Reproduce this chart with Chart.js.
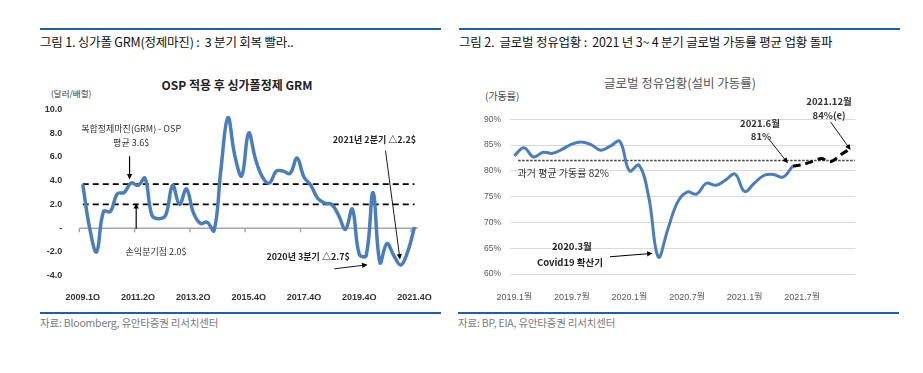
<!DOCTYPE html>
<html>
<head>
<meta charset="utf-8">
<script src="https://cdn.jsdelivr.net/npm/chart.js@4.4.1/dist/chart.umd.min.js"></script>
<style>
  body { margin: 0; background: #fff; width: 923px; height: 373px; position: relative; overflow: hidden;
         font-family: 'Noto Sans CJK KR', 'Noto Sans', sans-serif; }
  .abs { position: absolute; white-space: nowrap; }
  .rule { position: absolute; height: 1.5px; background: #1b5fae; }
  .head { font-size: 12.5px; color: #111; line-height: 16px; letter-spacing: -0.2px; }
  .foot { font-size: 10.5px; color: #7a7a7a; line-height: 14px; letter-spacing: -0.2px; }
</style>
</head>
<body>
<div class="rule" style="left:40px; top:28px; width:401px;"></div>
<div class="rule" style="left:459px; top:28px; width:441px;"></div>
<div class="abs head" style="left:40px; top:34px;">그림 1. 싱가폴 GRM(정제마진) :&nbsp; 3 분기 회복 빨라..</div>
<div class="abs head" style="left:459px; top:34px;">그림 2.&nbsp; 글로벌 정유업황 :&nbsp; 2021 년 3~ 4 분기 글로벌 가동률 평균 업황 돌파</div>

<div class="abs" style="left:137px; width:200px; text-align:center; top:76px; font-size:12px; font-weight:bold; color:#222; line-height:17px;">OSP 적용 후 싱가폴정제 GRM</div>
<div class="abs" style="left:51px; top:87px; font-size:8.5px; color:#333; line-height:12px;">(달러/배럴)</div>
<div class="abs" style="left:580px; width:200px; text-align:center; top:74px; font-size:12.5px; color:#555; line-height:18px;">글로벌 정유업황(설비 가동률)</div>
<div class="abs" style="left:485px; top:89px; font-size:10px; color:#444; line-height:14px;">(가동률)</div>

<div class="abs" style="left:30px; top:70px; width:410px; height:230px;"><canvas id="grmChart"></canvas></div>
<div class="abs" style="left:470px; top:60px; width:430px; height:240px;"><canvas id="utilChart"></canvas></div>

<div class="rule" style="left:40px; top:312px; width:401px;"></div>
<div class="rule" style="left:458px; top:312px; width:441px;"></div>
<div class="abs foot" style="left:40px; top:316px;">자료: Bloomberg, 유안타증권 리서치센터</div>
<div class="abs foot" style="left:458px; top:316px;">자료: BP, EIA, 유안타증권 리서치센터</div>

<script>
// 싱가폴 GRM (달러/배럴), 2009.1Q ~ 2021.4Q
const grmTicks = ['2009.1Q', '2011.2Q', '2013.2Q', '2015.4Q', '2017.4Q', '2019.4Q', '2021.4Q']
const grm = [3.7, 0.0, -2.0, 1.4, 1.4, 2.9, 3.0, 3.8, 3.6, 4.2, 1.1, 0.8, 1.1, 3.6, 2.0, 3.3, 1.3, 0.4, 0.5, -0.2,
  5.0, 9.3, 6.1, 4.4, 8.0, 5.8, 4.3, 3.8, 4.8, 4.8, 4.6, 5.9, 4.3, 3.6, 2.5, 2.1, 2.0, 1.1, -0.1, 1.6,
  -2.2, -2.3, 3.0, -2.9, -1.3, -2.3, -3.1, -2.0, 0.1]
const grmAvg = 3.7
const grmBreakEven = 2.0

// 글로벌 정유 설비 가동률 (%), 2019.1 ~ 2021.12
const utilTicks = ['2019.1월', '2019.7월', '2020.1월', '2020.7월', '2021.1월', '2021.7월']
const util = [82.9, 84.5, 82.7, 83.6, 83.4, 84.2, 85.2, 85.6, 85.1, 84.0, 84.8, 85.7, 80.0, 81.1, 75.0, 63.3,
  68.7, 73.9, 75.9, 75.5, 77.6, 77.2, 78.2, 79.4, 76.0, 77.6, 79.1, 79.3, 78.8, 80.9]
const forecastStart = 29
const utilForecast = [80.9, 81.2, 81.8, 82.4, 81.8, 83.1, 84.3]
const utilAvg = 82

const notesPlugin = {
  id: 'notes',
  afterDatasetsDraw(chart, args, opts) {
    const { ctx, scales: { x, y } } = chart
    ctx.save()
    ;(opts.items || []).forEach(n => {
      if (n.text) {
        ctx.font = n.font
        ctx.fillStyle = n.color || '#222'
        ctx.textAlign = 'center'
        ctx.textBaseline = 'middle'
        ctx.fillText(n.text, x.getPixelForValue(n.x), y.getPixelForValue(n.y))
        return
      }
      const x1 = x.getPixelForValue(n.from[0]), y1 = y.getPixelForValue(n.from[1])
      const x2 = x.getPixelForValue(n.to[0]), y2 = y.getPixelForValue(n.to[1])
      const a = Math.atan2(y2 - y1, x2 - x1)
      const h = n.head || 6
      ctx.strokeStyle = '#000'
      ctx.fillStyle = '#000'
      ctx.lineWidth = n.width || 1
      ctx.beginPath()
      ctx.moveTo(x1, y1)
      ctx.lineTo(x2 - Math.cos(a) * h * 0.8, y2 - Math.sin(a) * h * 0.8)
      ctx.stroke()
      ctx.beginPath()
      ctx.moveTo(x2, y2)
      ctx.lineTo(x2 - h * Math.cos(a - 0.45), y2 - h * Math.sin(a - 0.45))
      ctx.lineTo(x2 - h * Math.cos(a + 0.45), y2 - h * Math.sin(a + 0.45))
      ctx.closePath()
      ctx.fill()
    })
    ctx.restore()
  },
}

const zeroAxisPlugin = {
  id: 'zeroAxis',
  beforeDatasetsDraw(chart) {
    const { ctx, scales: { x, y } } = chart
    const y0 = y.getPixelForValue(0)
    ctx.save()
    ctx.strokeStyle = '#a6a6a6'
    ctx.lineWidth = 1.5
    ctx.beginPath()
    ctx.moveTo(x.left, y0)
    ctx.lineTo(x.right, y0)
    grmTicks.forEach((t, k) => {
      const px = x.getPixelForValue(k * 8 - 0.5)
      ctx.moveTo(px, y0)
      ctx.lineTo(px, y0 + 4)
    })
    ctx.stroke()
    ctx.restore()
  },
}

const noteFont = "9px 'Noto Sans CJK KR'"
const noteBold = "600 9px 'Noto Sans CJK KR'"

new Chart(document.getElementById('grmChart'), {
  type: 'line',
  data: {
    datasets: [
      {
        data: grm.map((v, i) => ({ x: i, y: v })),
        borderColor: '#4a7ebb',
        borderWidth: 3.5,
        tension: 0.4,
        pointRadius: 0,
      },
      {
        data: [{ x: 0, y: grmAvg }, { x: grm.length - 1, y: grmAvg }],
        borderColor: '#000',
        borderWidth: 1.8,
        borderDash: [6, 4],
        pointRadius: 0,
      },
      {
        data: [{ x: 0, y: grmBreakEven }, { x: grm.length - 1, y: grmBreakEven }],
        borderColor: '#000',
        borderWidth: 1.8,
        borderDash: [6, 4],
        pointRadius: 0,
      },
    ],
  },
  plugins: [zeroAxisPlugin, notesPlugin],
  options: {
    responsive: true,
    maintainAspectRatio: false,
    animation: false,
    layout: { padding: { top: 39.3, right: 19.2, left: 0, bottom: 0 } },
    scales: {
      x: {
        type: 'linear',
        min: -0.5,
        max: 48.5,
        afterBuildTicks: s => { s.ticks = grmTicks.map((t, k) => ({ value: k * 8 })) },
        afterFit: s => { s.height = 24.3 },
        grid: { display: false },
        border: { display: false },
        ticks: {
          padding: 8,
          maxRotation: 0,
          autoSkip: false,
          color: '#333',
          font: { family: "'Liberation Sans'", size: 9, weight: 'bold' },
          callback: v => grmTicks[v / 8],
        },
      },
      y: {
        min: -4,
        max: 10,
        afterFit: s => { s.width = 49.3 },
        grid: { display: false },
        border: { display: false },
        ticks: {
          stepSize: 2,
          padding: 9,
          color: '#333',
          font: { family: "'Liberation Sans'", size: 9, weight: 'bold' },
          callback: v => (v === 0 ? '-' : v.toFixed(1)),
        },
      },
    },
    plugins: {
      legend: { display: false },
      tooltip: { enabled: false },
      notes: {
        items: [
          { text: '복합정제마진(GRM) - OSP', x: 7.0, y: 8.4, font: noteFont, color: '#333' },
          { text: '평균 3.6$', x: 7.0, y: 7.17, font: noteFont, color: '#333' },
          { from: [6.77, 6.05], to: [6.77, 4.1], width: 1.2, head: 6 },
          { from: [7.73, -0.06], to: [7.73, 2.1], width: 1.2, head: 6 },
          { text: '손익분기점 2.0$', x: 10.6, y: -2.0, font: noteFont, color: '#333' },
          { text: '2021년 2분기 △2.2$', x: 42.2, y: 7.45, font: noteBold, color: '#222' },
          { from: [43.8, 6.52], to: [45.9, -2.64], width: 0.9, head: 6 },
          { text: '2020년 3분기 △2.7$', x: 32.6, y: -2.35, font: noteBold, color: '#222' },
          { from: [36.4, -3.42], to: [41.2, -3.08], width: 0.9, head: 6 },
        ],
      },
    },
  },
})

new Chart(document.getElementById('utilChart'), {
  type: 'line',
  data: {
    datasets: [
      {
        data: util.map((v, i) => ({ x: i, y: v })),
        borderColor: '#4a7ebb',
        borderWidth: 3,
        tension: 0.4,
        pointRadius: 0,
      },
      {
        data: utilForecast.map((v, k) => ({ x: forecastStart + k, y: v })),
        borderColor: '#000',
        borderWidth: 3,
        borderDash: [8, 5],
        tension: 0.3,
        pointRadius: 0,
      },
      {
        data: [{ x: 0.4, y: utilAvg }, { x: 35.5, y: utilAvg }],
        borderColor: '#444',
        borderWidth: 1.4,
        borderDash: [2.5, 1.5],
        pointRadius: 0,
      },
    ],
  },
  plugins: [notesPlugin],
  options: {
    responsive: true,
    maintainAspectRatio: false,
    animation: false,
    layout: { padding: { top: 59.3, right: 45, left: 0, bottom: 0 } },
    scales: {
      x: {
        type: 'linear',
        min: -0.45,
        max: 35.5,
        afterBuildTicks: s => { s.ticks = utilTicks.map((t, k) => ({ value: k * 6 })) },
        afterFit: s => { s.height = 26 },
        grid: { display: false },
        border: { display: false },
        ticks: {
          padding: 10,
          maxRotation: 0,
          autoSkip: false,
          color: '#595959',
          font: { family: "'Liberation Sans', 'Noto Sans CJK KR'", size: 9 },
          callback: v => utilTicks[v / 6],
        },
      },
      y: {
        min: 60,
        max: 90,
        afterFit: s => { s.width = 40 },
        grid: { color: '#d9d9d9', lineWidth: 1, drawTicks: false },
        border: { display: false },
        ticks: {
          stepSize: 5,
          padding: 9,
          color: '#595959',
          font: { family: "'Liberation Sans'", size: 8.5 },
          callback: v => v + '%',
        },
      },
    },
    plugins: {
      legend: { display: false },
      tooltip: { enabled: false },
      notes: {
        items: [
          { text: '과거 평균 가동률 82%', x: 5.1, y: 79.5, font: "10px 'Noto Sans CJK KR'", color: '#333' },
          { text: '2021.6월', x: 25.6, y: 89.2, font: "600 9.5px 'Noto Sans CJK KR'", color: '#333' },
          { text: '81%', x: 25.7, y: 86.6, font: "600 9.5px 'Noto Sans CJK KR'", color: '#333' },
          { from: [26.6, 86.0], to: [28.5, 81.5], width: 0.9, head: 6 },
          { text: '2021.12월', x: 32.8, y: 93.4, font: "600 9.5px 'Noto Sans CJK KR'", color: '#333' },
          { text: '84%(e)', x: 32.8, y: 90.8, font: "600 9.5px 'Noto Sans CJK KR'", color: '#333' },
          { from: [32.95, 89.5], to: [35.04, 84.05], width: 0.9, head: 6 },
          { text: '2020.3월', x: 6.0, y: 65.3, font: "600 9.5px 'Noto Sans CJK KR'", color: '#222' },
          { text: 'Covid19 확산기', x: 5.8, y: 62.2, font: "600 9.5px 'Noto Sans CJK KR'", color: '#222' },
          { from: [9.97, 63.36], to: [14.4, 64.0], width: 1.1, head: 6 },
        ],
      },
    },
  },
})
</script>
</body>
</html>
